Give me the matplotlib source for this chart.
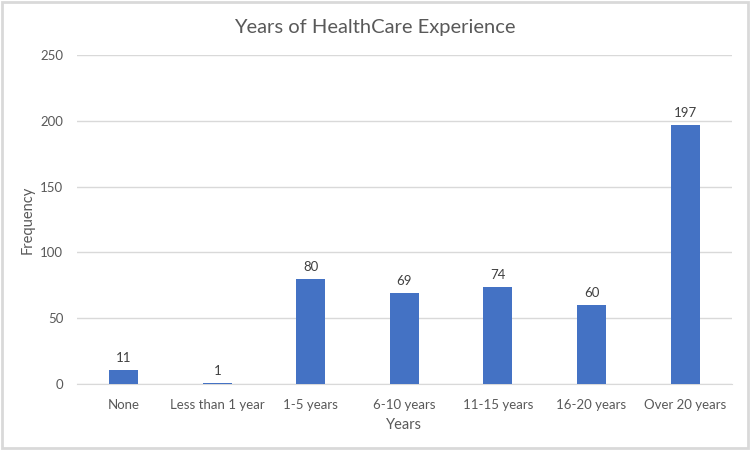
import matplotlib
matplotlib.use("Agg")
import matplotlib.pyplot as plt
from matplotlib.patches import Rectangle

categories = ["None", "Less than 1 year", "1-5 years", "6-10 years",
              "11-15 years", "16-20 years", "Over 20 years"]
counts = [11, 1, 80, 69, 74, 60, 197]

plt.rcParams['font.family'] = ['Lato', 'DejaVu Sans']
text_color = "#595959"
grid_color = "#d9d9d9"

fig = plt.figure(figsize=(7.5, 4.5), dpi=100)
ax = fig.add_axes([0.1027, 0.1467, 0.873, 0.7306])

ax.bar(range(len(categories)), counts, width=0.31, color="#4472C4", zorder=3)
for i, v in enumerate(counts):
    ax.text(i, v + 4.5, str(v), ha="center", va="bottom", fontsize=9.5, color="#404040")

ax.set_xlim(-0.5, len(categories) - 0.5)
ax.set_ylim(0, 250)
ax.set_yticks(range(0, 251, 50))
ax.set_xticks(range(len(categories)))
ax.set_xticklabels(categories)
ax.tick_params(axis="both", length=0, colors=text_color, labelsize=9.5)
ax.tick_params(axis="x", pad=11)
ax.tick_params(axis="y", pad=10)
ax.grid(axis="y", color=grid_color, linewidth=1, zorder=0)
for s in ["top", "right", "left"]:
    ax.spines[s].set_visible(False)
ax.spines["bottom"].set_color(grid_color)

ax.set_xlabel("Years", fontsize=10.5, color=text_color, labelpad=5)
ax.set_ylabel("Frequency", fontsize=10.5, color=text_color, labelpad=4)
fig.text(0.5, 0.94, "Years of HealthCare Experience", ha="center", va="center",
         fontsize=14.5, color=text_color)

fig.patches.append(Rectangle((0.003, 0.004), 0.994, 0.992, transform=fig.transFigure,
                             fill=False, edgecolor=grid_color, linewidth=2))

fig.savefig("out.png", dpi=100)
